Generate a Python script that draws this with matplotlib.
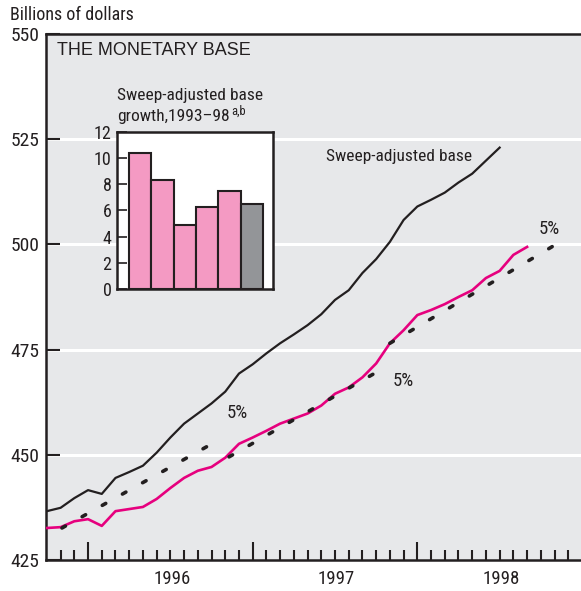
import matplotlib
matplotlib.use("Agg")
import matplotlib.pyplot as plt
from matplotlib import font_manager

# months counted from Jan 1996 = 0
months_adj = list(range(-3, 31))
sweep_adj = [436.6, 437.4, 439.7, 441.6, 440.7, 444.5, 445.9, 447.4, 450.5, 454.1,
             457.4, 459.8, 462.2, 465.0, 469.3, 471.5, 474.1, 476.5, 478.6, 480.8,
             483.4, 486.8, 489.1, 493.2, 496.5, 500.6, 505.8, 509.0, 510.6, 512.3,
             514.7, 516.8, 519.9, 523.0]

months_base = list(range(-3, 33))
base = [432.6, 432.8, 434.2, 434.7, 433.1, 436.6, 437.1, 437.6, 439.5, 442.1,
        444.5, 446.2, 447.1, 449.3, 452.6, 454.1, 455.7, 457.4, 458.6, 459.8,
        461.7, 464.5, 466.0, 468.4, 471.7, 476.5, 479.6, 483.2, 484.4, 485.8,
        487.5, 489.1, 492.0, 493.7, 497.5, 499.4]

# 5% growth paths: (start month, start level, end month, end level)
paths_x = [[-1.9, 9.84], [10.28, 21.87], [22.0, 33.9]]
paths_y = [[432.6, 454.1], [449.5, 471.2], [476.5, 499.6]]
path_label_x = [10.86, 22.96, 33.6]
path_label_y = [460.0, 467.6, 503.7]

year_labels = ["1996", "1997", "1998"]
year_mid = [6, 18, 30]

bar_years = [1993, 1994, 1995, 1996, 1997, 1998]
bar_growth = [10.4, 8.3, 4.9, 6.3, 7.5, 6.5]

have = {f.name for f in font_manager.fontManager.ttflist}
narrow = "Liberation Sans"
for cand in ["Roboto Condensed", "Liberation Sans Narrow", "Open Sans Condensed"]:
    if cand in have:
        narrow = cand
        break
plt.rcParams["font.family"] = [narrow, "DejaVu Sans"]

bg = "#e7e8ea"
pink = "#e6007e"
ink = "#231f20"

fig = plt.figure(figsize=(5.81, 5.91), dpi=100)
ax = fig.add_axes([0.080, 0.0525, 0.92, 0.89])
ax.set_facecolor(bg)
ax.set_xlim(-3.03, 35.93)
ax.set_ylim(425, 550)

for g in [450, 475, 500, 525]:
    ax.axhline(g, color="white", lw=2.2, zorder=1)

ax.plot(months_adj, sweep_adj, color=ink, lw=1.6, zorder=3)
ax.plot(months_base, base, color=pink, lw=1.9, zorder=3)
for px, py in zip(paths_x, paths_y):
    ln, = ax.plot(px, py, color=ink, lw=2.6, zorder=4,
                  solid_capstyle="round", dash_capstyle="round")
    ln.set_dashes((1.1, 5.3))
for lx, ly in zip(path_label_x, path_label_y):
    ax.text(lx, ly, "5%", fontsize=13.5, color=ink, ha="center", va="center")

ax.text(22.7, 520.8, "Sweep-adjusted base", fontsize=12.5, color=ink,
        ha="center", va="center")
ax.text(0.0196, 0.968, "THE MONETARY BASE", transform=ax.transAxes,
        fontsize=13, family="Liberation Sans", color=ink, va="center")

for side in ["left", "bottom", "top"]:
    ax.spines[side].set_linewidth(1.8)
    ax.spines[side].set_color(ink)
ax.spines["right"].set_visible(False)

ax.set_yticks([425, 450, 475, 500, 525, 550])
ax.tick_params(axis="y", direction="in", length=10, width=1.5, color=ink,
               labelsize=14, pad=5, labelcolor=ink)
ax.set_xticks([0, 12, 24])
ax.set_xticks(range(-2, 36), minor=True)
ax.set_xticklabels([])
ax.tick_params(axis="x", which="major", direction="in", length=13, width=1.5,
               color=ink)
ax.tick_params(axis="x", which="minor", direction="in", length=7, width=1.5,
               color=ink)
for xm, yl in zip(year_mid, year_labels):
    ax.text(xm + 0.1, -0.037, yl, transform=ax.get_xaxis_transform(), fontsize=13.5,
            ha="center", va="center", color=ink)

fig.text(0.017, 0.975, "Billions of dollars", fontsize=13, va="center", color=ink)

# inset bar chart
ins = fig.add_axes([0.2014, 0.511, 0.2685, 0.2657])
ins.set_facecolor("white")
colors = ["#f49ac3"] * 5 + ["#939598"]
ins.bar(range(len(bar_years)), bar_growth, width=1.0, color=colors,
        edgecolor=ink, linewidth=1.5, zorder=2)
ins.set_xlim(-1.03, 5.95)
ins.set_ylim(0, 12)
ins.set_yticks(range(0, 13, 2))
ins.set_xticks([])
ins.tick_params(axis="y", direction="in", length=7, width=1.2, color=ink,
                labelsize=13, pad=4, labelcolor=ink)
for s in ins.spines.values():
    s.set_linewidth(1.8)
    s.set_color(ink)
    s.set_zorder(3)
ins.text(0.0, 1.235, "Sweep-adjusted base", transform=ins.transAxes,
         fontsize=12.5, va="center", color=ink)
t2 = ins.text(0.0, 1.10, "growth,1993\u201398", transform=ins.transAxes,
              fontsize=12.5, va="center", color=ink)
fig.canvas.draw()
bb = t2.get_window_extent()
fig.text((bb.x1 + 2) / fig.bbox.width, (bb.y1 - 2) / fig.bbox.height, "a,b",
         fontsize=9, va="center", color=ink)

fig.savefig("out.png", dpi=100)
